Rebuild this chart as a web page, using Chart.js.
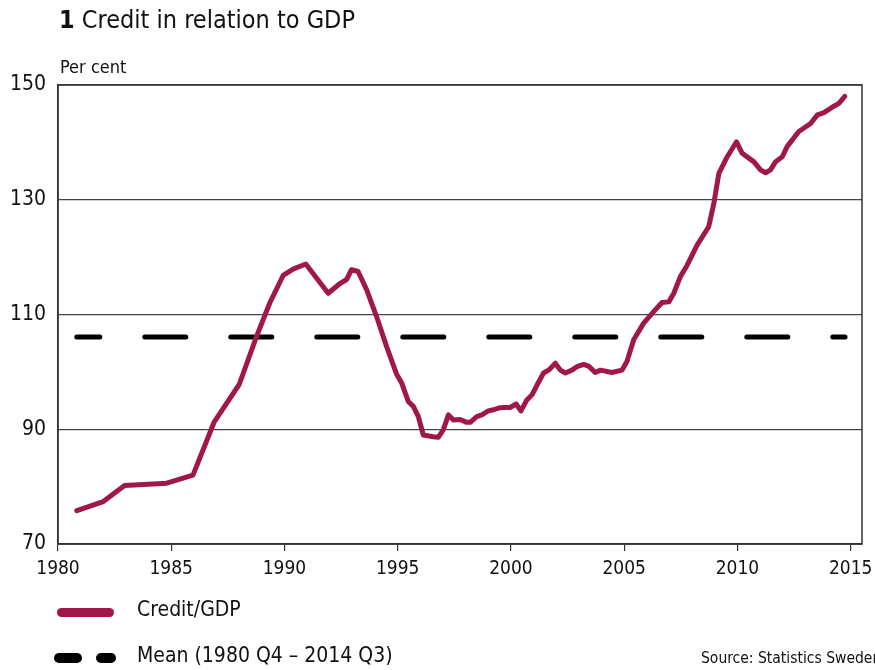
<!DOCTYPE html>
<html>
<head>
<meta charset="utf-8">
<script src="https://cdn.jsdelivr.net/npm/chart.js@4.4.1/dist/chart.umd.min.js"></script>
<style>
  body { margin: 0; background: #fff; font-family: "DejaVu Sans Condensed", "Liberation Sans Narrow", "DejaVu Sans", sans-serif; font-stretch: condensed; color: #111; }
  #wrap { position: relative; width: 875px; height: 670px; overflow: hidden; }
  #chart { position: absolute; left: 0; top: 0; }
  .txt { position: absolute; white-space: nowrap; }
  #title { left: 59px; top: 5px; font-size: 25px; }
  #title b { font-weight: bold; }
  #unit { left: 60px; top: 56px; font-size: 18px; }
  .swatch { position: absolute; border-radius: 5px; }
  .leg { font-size: 21px; }
  #source { left: 701px; top: 649px; font-size: 15.5px; }
</style>
</head>
<body>
<div id="wrap">
  <canvas id="chart" width="875" height="670"></canvas>
  <div class="txt" id="title"><b>1</b> Credit in relation to GDP</div>
  <div class="txt" id="unit">Per cent</div>
  <div class="swatch" style="left:57px; top:608px; width:57px; height:9px; background:#a0174a;"></div>
  <div class="txt leg" style="left:137px; top:597px;">Credit/GDP</div>
  <div class="swatch" style="left:54px; top:653px; width:28px; height:10px; background:#000;"></div>
  <div class="swatch" style="left:96px; top:653px; width:20px; height:10px; background:#000;"></div>
  <div class="txt leg" style="left:137px; top:643px;">Mean (1980 Q4 – 2014 Q3)</div>
  <div class="txt" id="source">Source: Statistics Sweden</div>
</div>
<script>
// quarterly readings (decimal year) and credit/GDP ratio, per cent
var years = [1980.83, 1982.0, 1982.94, 1984.8, 1985.96, 1986.9, 1988.0, 1988.76, 1989.35, 1989.94,
  1990.38, 1990.94, 1991.93, 1992.45, 1992.74, 1992.96, 1993.25, 1993.63, 1994.07, 1994.51,
  1994.95, 1995.18, 1995.47, 1995.69, 1995.91, 1996.13, 1996.57, 1996.79, 1997.01, 1997.24,
  1997.46, 1997.75, 1998.05, 1998.2, 1998.49, 1998.71, 1999.0, 1999.23, 1999.45, 1999.67,
  1999.96, 2000.23, 2000.44, 2000.7, 2000.93, 2001.15, 2001.44, 2001.66, 2001.96, 2002.18,
  2002.4, 2002.69, 2002.91, 2003.21, 2003.43, 2003.72, 2003.95, 2004.46, 2004.9, 2005.12,
  2005.42, 2005.86, 2006.3, 2006.67, 2006.97, 2007.19, 2007.48, 2007.78, 2008.22, 2008.73,
  2008.96, 2009.18, 2009.55, 2009.96, 2010.21, 2010.73, 2011.02, 2011.24, 2011.46, 2011.68,
  2011.98, 2012.2, 2012.71, 2013.23, 2013.53, 2013.82, 2014.26, 2014.48, 2014.74];
var creditGdp = [75.8, 77.4, 80.2, 80.6, 82.0, 91.3, 97.8, 106.1, 112.0, 116.8,
  117.9, 118.8, 113.7, 115.4, 116.1, 117.8, 117.5, 114.3, 109.6, 104.4,
  99.6, 98.0, 94.8, 94.0, 92.2, 89.0, 88.7, 88.6, 89.9, 92.5,
  91.6, 91.7, 91.2, 91.2, 92.2, 92.5, 93.2, 93.4, 93.7, 93.8,
  93.8, 94.4, 93.2, 95.1, 96.0, 97.7, 99.8, 100.3, 101.5, 100.3,
  99.8, 100.3, 100.9, 101.3, 101.0, 99.9, 100.3, 99.9, 100.3, 101.8,
  105.6, 108.5, 110.5, 112.1, 112.2, 113.7, 116.6, 118.6, 122.1, 125.3,
  129.4, 134.6, 137.5, 140.1, 138.1, 136.6, 135.2, 134.7, 135.2, 136.6,
  137.5, 139.3, 141.9, 143.3, 144.8, 145.2, 146.3, 146.8, 148.0];
// mean over 1980 Q4 - 2014 Q3
var meanYears = [1980.83, 2014.75];
var meanValue = 106.1;
var yTicks = [70, 90, 110, 130, 150];
var xTicks = [1980, 1985, 1990, 1995, 2000, 2005, 2010, 2015];

var fontFamily = '"DejaVu Sans Condensed", "Liberation Sans Narrow", "DejaVu Sans", sans-serif';

var creditPoints = years.map(function (y, i) { return { x: y, y: creditGdp[i] }; });
var meanPoints = meanYears.map(function (y) { return { x: y, y: meanValue }; });

// box around the plot area
var framePlugin = {
    id: 'frame',
    afterDatasetsDraw: function (chart) {
        var a = chart.chartArea, ctx = chart.ctx;
        ctx.save();
        ctx.strokeStyle = '#333';
        ctx.lineWidth = 1.5;
        ctx.strokeRect(a.left, a.top, a.right - a.left, a.bottom - a.top);
        ctx.restore();
    }
};

var ctx = document.getElementById('chart').getContext('2d');
var chart = new Chart(ctx, {
    type: 'line',
    plugins: [framePlugin],
    data: {
        datasets: [{
            label: 'Credit/GDP',
            data: creditPoints,
            borderColor: '#a0174a',
            borderWidth: 5,
            borderJoinStyle: 'round',
            borderCapStyle: 'round',
            pointRadius: 0,
            tension: 0,
            order: 1
        }, {
            label: 'Mean (1980 Q4 – 2014 Q3)',
            data: meanPoints,
            borderColor: '#000',
            borderWidth: 5,
            borderDash: [41, 45],
            borderDashOffset: 18,
            borderCapStyle: 'round',
            pointRadius: 0,
            order: 2
        }]
    },
    options: {
        responsive: false,
        animation: false,
        layout: { padding: { top: 85, right: 13, left: 0, bottom: 0 } },
        plugins: {
            legend: { display: false },
            title: { display: false },
            tooltip: { enabled: false }
        },
        scales: {
            x: {
                type: 'linear',
                min: 1980,
                max: 2015.5,
                afterBuildTicks: function (scale) {
                    scale.ticks = xTicks.map(function (v) { return { value: v }; });
                },
                afterFit: function (scale) {
                    scale.height = 126;
                    scale.paddingLeft = 0;
                    scale.paddingRight = 0;
                },
                grid: { drawOnChartArea: false, drawTicks: true, tickLength: 7, color: '#333', lineWidth: 1.2 },
                border: { display: true, color: '#333', width: 1.5 },
                ticks: {
                    padding: 7,
                    color: '#111',
                    font: { family: fontFamily, size: 19 },
                    callback: function (v) { return String(v); }
                }
            },
            y: {
                min: 70,
                max: 150,
                afterBuildTicks: function (scale) {
                    scale.ticks = yTicks.map(function (v) { return { value: v }; });
                },
                afterFit: function (scale) {
                    scale.width = 58;
                    scale.paddingTop = 0;
                    scale.paddingBottom = 0;
                },
                grid: { drawTicks: false, color: '#444', lineWidth: 1.2 },
                border: { display: true, color: '#333', width: 1.5 },
                ticks: {
                    padding: 12,
                    color: '#111',
                    font: { family: fontFamily, size: 21 }
                }
            }
        }
    }
});
</script>
</body>
</html>
